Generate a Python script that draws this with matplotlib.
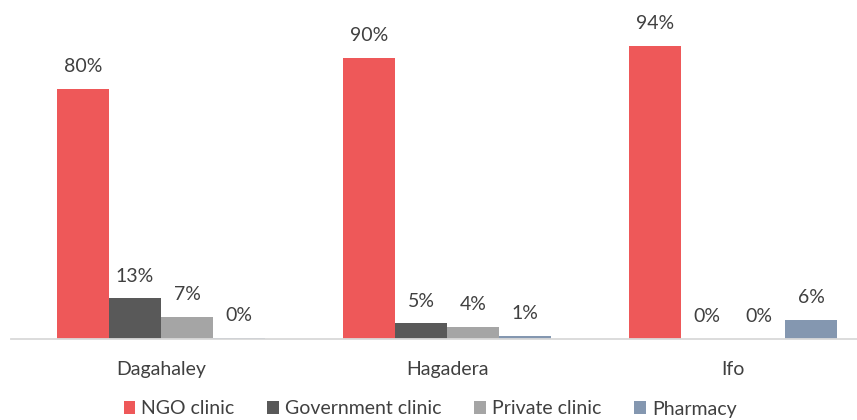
import matplotlib
matplotlib.use("Agg")
import matplotlib.pyplot as plt
import numpy as np
from matplotlib.patches import Patch

categories = ["Dagahaley", "Hagadera", "Ifo"]
series_names = ["NGO clinic", "Government clinic", "Private clinic", "Pharmacy"]
ngo = [80, 90, 94]
government = [13, 5, 0]
private = [7, 4, 0]
pharmacy = [0.3, 1, 6]
values = [ngo, government, private, pharmacy]
colors = ["#EE5859", "#595959", "#A5A5A5", "#8497B0"]

plt.rcParams["font.family"] = ["Lato", "DejaVu Sans"]

W, H = 857, 420
fig = plt.figure(figsize=(W / 100, H / 100), dpi=100)
left_px, right_px, base_px = 11, 876, 339
ax = fig.add_axes([left_px / W, (H - base_px) / H, (right_px - left_px) / W, base_px / H])
ax.set_xlim(-0.5245, 2.5)
ax.set_ylim(0, 108.6)

x = np.arange(len(categories))
bw = 52 / 286
for i, (vals, col) in enumerate(zip(values, colors)):
    xs = x + (i - 1.5) * bw
    ax.bar(xs, vals, width=bw, color=col, label=series_names[i])
    for xi, v in zip(xs, vals):
        ax.annotate(f"{round(v)}%", (xi, v), xytext=(0, 10), textcoords="offset points",
                    ha="center", va="bottom", fontsize=14, color="#404040")

for s in ["top", "right", "left"]:
    ax.spines[s].set_visible(False)
ax.spines["bottom"].set_color("#D9D9D9")
ax.spines["bottom"].set_linewidth(1.3)
ax.set_yticks([])
ax.set_xticks(x)
ax.set_xticklabels(categories, fontsize=14, color="#404040")
ax.tick_params(axis="x", length=0, pad=16)

handles = [Patch(facecolor=c) for c in colors]
fig.legend(handles, series_names, loc="center", bbox_to_anchor=(430 / W, 1 - 409 / H),
           ncol=4, frameon=False, fontsize=14, handlelength=0.6, handleheight=0.6,
           handletextpad=0.3, columnspacing=1.7, labelcolor="#404040")

fig.savefig("out.png", dpi=100)
